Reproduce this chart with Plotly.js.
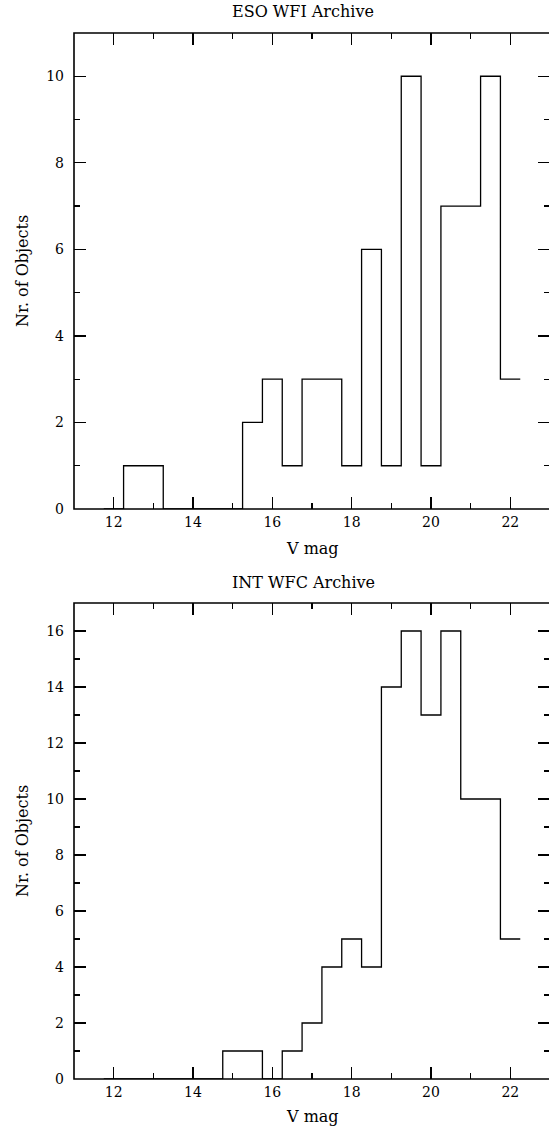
<!DOCTYPE html>
<html>
<head>
<meta charset="utf-8">
<script src="https://cdn.plot.ly/plotly-3.0.1.min.js"></script>
<style>
html,body{margin:0;padding:0;overflow:hidden;background:#fff;}
#chart{width:551px;height:1131px;}
</style>
</head>
<body>
<div id="chart"></div>
<script>
// Bin left edges (V mag), bin width 0.5
const binLeft = [11.75, 12.25, 12.75, 13.25, 13.75, 14.25, 14.75, 15.25, 15.75, 16.25, 16.75,
                 17.25, 17.75, 18.25, 18.75, 19.25, 19.75, 20.25, 20.75, 21.25, 21.75];
const lastEdge = 22.25;
// ESO WFI Archive counts
const esoCounts = [0, 1, 1, 0, 0, 0, 0, 2, 3, 1, 3, 3, 1, 6, 1, 10, 1, 7, 7, 10, 3];
// INT WFC Archive counts
const intCounts = [0, 0, 0, 0, 0, 0, 1, 1, 0, 1, 2, 4, 5, 4, 14, 16, 13, 16, 10, 10, 5];

const titles = ["ESO WFI Archive", "INT WFC Archive"];
const xLabel = "V mag";
const yLabel = "Nr. of Objects";
const xTickVals = [12, 14, 16, 18, 20, 22];
const yTickValsTop = [0, 2, 4, 6, 8, 10];
const yTickValsBot = [0, 2, 4, 6, 8, 10, 12, 14, 16];

const W = 551, H = 1131;
const FONT = "DejaVu Serif, Liberation Serif, serif";

function stepTrace(counts, xa, ya) {
  return {
    type: "scatter", mode: "lines",
    x: binLeft.concat([lastEdge]),
    y: counts.concat([counts[counts.length - 1]]),
    line: {shape: "hv", color: "#000", width: 1.3},
    xaxis: xa, yaxis: ya, hoverinfo: "skip", showlegend: false
  };
}

const tickCommon = {
  ticks: "inside", ticklen: 12, tickwidth: 1.2, tickcolor: "#000",
  minor: {dtick: 1, tick0: 0, ticks: "inside", ticklen: 6, tickwidth: 1.2, tickcolor: "#000"},
  showline: false, mirror: "allticks",
  showgrid: false, zeroline: false, fixedrange: true,
  tickfont: {family: FONT, size: 14, color: "#000"}
};

function xAxis(anchor) {
  return Object.assign({}, tickCommon, {
    domain: [74 / W, 550 / W], anchor: anchor,
    range: [11, 23], tickvals: xTickVals, ticktext: xTickVals.map(String),
    ticklabelstandoff: 3
  });
}
function yAxis(domain, range, anchor, tv) {
  return Object.assign({}, tickCommon, {
    domain: domain, anchor: anchor, range: range,
    tickvals: tv, ticktext: tv.map(String),
    ticklabelstandoff: 9
  });
}

const topDom = [1 - 509 / H, 1 - 33 / H];
const botDom = [1 - 1079 / H, 1 - 603 / H];

const data = [stepTrace(esoCounts, "x", "y"), stepTrace(intCounts, "x2", "y2")];

function ann(text, xpx, ypx, size, angle) {
  return {text: text, xref: "paper", yref: "paper", x: xpx / W, y: 1 - ypx / H,
          xanchor: "center", yanchor: "middle", showarrow: false, textangle: angle || 0,
          font: {family: FONT, size: size, color: "#000"}};
}
function frame(xr, yr) {
  return {type: "rect", xref: xr + " domain", yref: yr + " domain", x0: 0, x1: 1, y0: 0, y1: 1,
          line: {color: "#000", width: 1.6}, fillcolor: "rgba(0,0,0,0)", layer: "above"};
}

const layout = {
  width: W, height: H,
  margin: {l: 0, r: 0, t: 0, b: 0},
  paper_bgcolor: "#fff", plot_bgcolor: "#fff",
  showlegend: false,
  xaxis: xAxis("y"),
  yaxis: yAxis(topDom, [0, 11], "x", yTickValsTop),
  xaxis2: xAxis("y2"),
  yaxis2: yAxis(botDom, [0, 17], "x2", yTickValsBot),
  shapes: [frame("x", "y"), frame("x2", "y2")],
  annotations: [
    ann(titles[0], 303, 12, 16),
    ann(xLabel, 312, 548, 16),
    ann(yLabel, 22, 271, 16, -90),
    ann(titles[1], 303, 582, 16),
    ann(xLabel, 312, 1116, 16),
    ann(yLabel, 22, 841, 16, -90)
  ]
};

Plotly.newPlot("chart", data, layout, {staticPlot: true, displayModeBar: false});
</script>
</body>
</html>
